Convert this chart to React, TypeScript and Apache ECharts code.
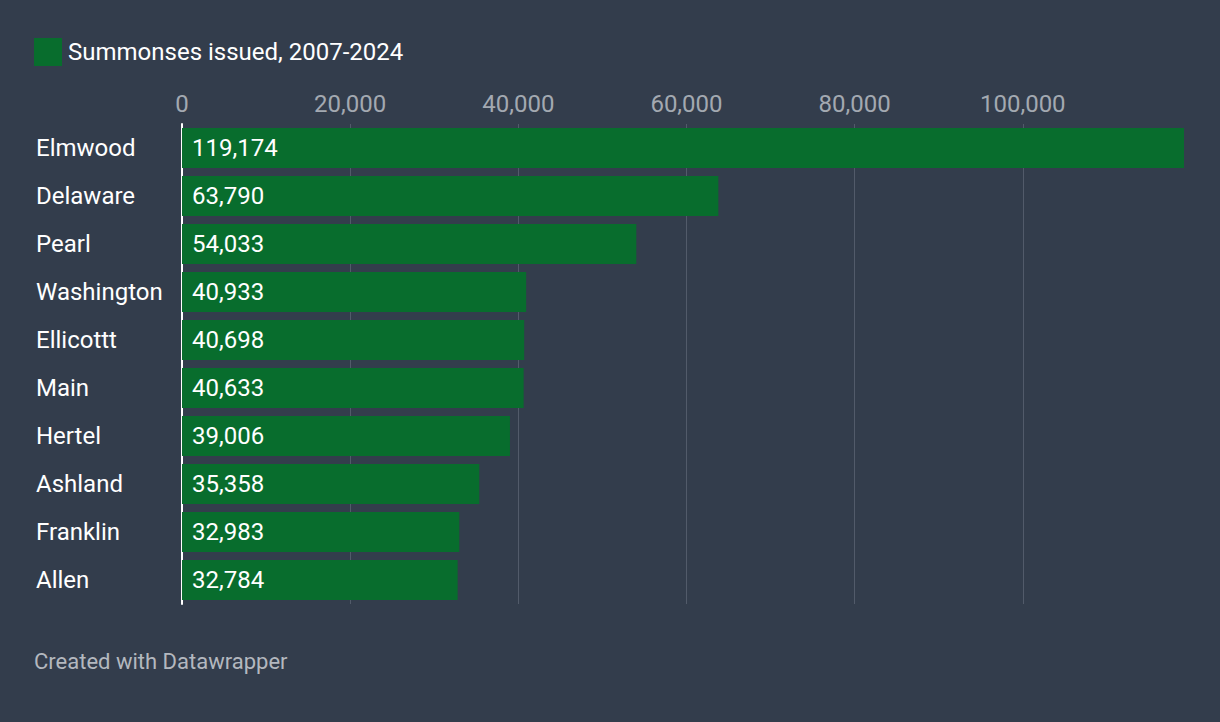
import React, { useEffect, useRef } from "react";
import * as echarts from "echarts";

const categories = [
  "Elmwood",
  "Delaware",
  "Pearl",
  "Washington",
  "Ellicottt",
  "Main",
  "Hertel",
  "Ashland",
  "Franklin",
  "Allen",
];
const summonses = [119174, 63790, 54033, 40933, 40698, 40633, 39006, 35358, 32983, 32784];
const seriesName = "Summonses issued, 2007-2024";
const footerText = "Created with Datawrapper";

const fmt = (v: number) => Math.round(v).toLocaleString("en-US");
const FONT = "Roboto, 'Noto Sans', sans-serif";

export default function App() {
  const ref = useRef<HTMLDivElement>(null);
  useEffect(() => {
    document.body.style.margin = "0";
    const chart = echarts.init(ref.current!, null, { renderer: "svg" });
    chart.setOption({
      animation: false,
      backgroundColor: "#333d4c",
      textStyle: { fontFamily: FONT },
      legend: {
        left: 34,
        top: 38,
        padding: 0,
        icon: "rect",
        itemWidth: 28,
        itemHeight: 28,
        itemGap: 20,
        textStyle: { color: "#ffffff", fontSize: 24, fontFamily: FONT, padding: [0, 0, 0, 1] },
        data: [seriesName],
      },
      grid: { left: 182, right: 36, top: 124, bottom: 118 },
      xAxis: {
        type: "value",
        position: "top",
        min: 0,
        max: 119174,
        interval: 20000,
        axisLine: { show: false },
        axisTick: { show: false },
        axisLabel: {
          color: "#a3a9b1",
          fontSize: 24,
          fontFamily: FONT,
          margin: 8,
          showMaxLabel: false,
          formatter: (v: number) => fmt(v),
        },
        splitLine: {
          show: true,
          showMaxLine: false,
          lineStyle: { color: "#525b6a", width: 1 },
        },
      },
      yAxis: {
        type: "category",
        data: categories,
        inverse: true,
        axisTick: { show: false },
        axisLine: { show: true, lineStyle: { color: "#ffffff", width: 2 } },
        axisLabel: {
          color: "#ffffff",
          fontSize: 24,
          fontFamily: FONT,
          align: "left",
          margin: 146,
        },
      },
      series: [
        {
          name: seriesName,
          type: "bar",
          data: summonses,
          barWidth: 40,
          itemStyle: { color: "#086d2d" },
          label: {
            show: true,
            position: "insideLeft",
            distance: 10,
            color: "#ffffff",
            fontSize: 24,
            fontFamily: FONT,
            formatter: (p: any) => fmt(p.value),
          },
        },
      ],
      graphic: [
        {
          type: "text",
          left: 34,
          top: 650,
          style: {
            text: footerText,
            fill: "#b3b8bf",
            fontSize: 22,
            fontFamily: FONT,
          },
        },
      ],
    });
    return () => chart.dispose();
  }, []);
  return <div ref={ref} style={{ width: 1220, height: 722 }} />;
}
